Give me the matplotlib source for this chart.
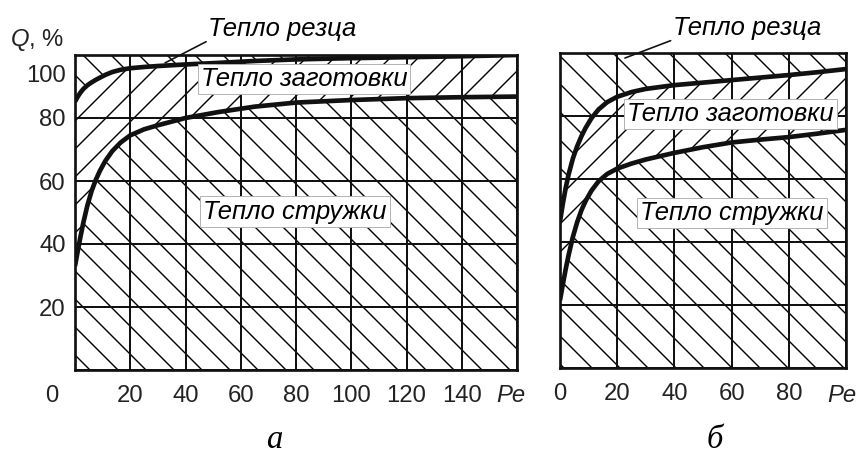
import matplotlib.pyplot as plt
from matplotlib.transforms import ScaledTranslation

DPI = 84
plt.rcParams['font.family'] = 'Liberation Sans'
plt.rcParams['hatch.linewidth'] = 1.2
plt.rcParams['mathtext.fontset'] = 'custom'
plt.rcParams['mathtext.it'] = 'Liberation Sans:italic'
plt.rcParams['mathtext.rm'] = 'Liberation Sans'

# panel a: heat shares vs Pe
pe_a = [0, 1, 2, 3, 4.5, 6, 7.5, 9, 11, 13.5, 16.5, 20, 25, 30, 40, 52, 65, 80,
        100, 120, 140, 160]
q_a_tool = [85.2, 86.8, 88.1, 89.2, 90.4, 91.3, 92.1, 92.8, 93.7, 94.6, 95.3, 95.8,
            96.2, 96.5, 97.0, 97.5, 98.1, 98.6, 99.0, 99.3, 99.6, 100]
q_a_chip = [33, 37.8, 42.4, 46.7, 52.3, 56.8, 60.3, 63.2, 66.4, 69.5, 72.2, 74.5,
            76.4, 77.7, 80, 81.9, 83.6, 84.9, 85.7, 86.3, 86.6, 86.8]

# panel б
pe_b = [0, 1, 2, 3, 4.5, 6, 7.5, 9, 11, 13.5, 16.5, 20, 25, 30, 40, 50, 60, 70, 80,
        90, 100]
q_b_tool = [46.5, 52.2, 57.2, 61.4, 66.5, 70.4, 73.6, 76.3, 79.3, 82.1, 84.4, 86.1,
            87.6, 88.6, 89.8, 90.6, 91.4, 92.2, 93, 93.9, 94.9]
q_b_chip = [21.5, 26.6, 31.4, 35.8, 41.6, 46.3, 50.1, 53.1, 56.3, 59.3, 61.6, 63.3,
            64.9, 66.2, 68.3, 70.1, 71.6, 72.5, 73.3, 74.4, 75.6]

q_ticks = [0, 20, 40, 60, 80, 100]
q_labels = ['', '20', '40', '60', '80', '100']
pe_a_ticks = [0, 20, 40, 60, 80, 100, 120, 140, 160]
pe_a_labels = ['', '20', '40', '60', '80', '100', '120', '140', '']
pe_b_ticks = [0, 20, 40, 60, 80, 100]
pe_b_labels = ['0', '20', '40', '60', '80', '']

W, H = 861, 455
fig = plt.figure(figsize=(W / DPI, H / DPI), dpi=DPI)
ax_a = fig.add_axes([75 / W, 85 / H, 442 / W, 315 / H])
ax_b = fig.add_axes([560 / W, 87 / H, 286 / W, 315 / H])

ink = '#111111'
tick_fs = 20.5
note_fs = 22
note_kw = dict(fontsize=note_fs, style='italic', va='center', ha='left', zorder=4,
               bbox=dict(facecolor='white', edgecolor='#b0b0b0', linewidth=0.8,
                         boxstyle='square,pad=0.12'))


def draw_panel(ax, pe, tool, chip, xmax):
    hatch_kw = dict(facecolor='white', edgecolor='black', linewidth=0)
    ax.fill_between(pe, 0, chip, hatch='\\', **hatch_kw)
    ax.fill_between(pe, chip, tool, hatch='/', **hatch_kw)
    ax.fill_between(pe, tool, 100, hatch='\\', **hatch_kw)
    ax.plot(pe, tool, color=ink, lw=4.0, solid_capstyle='butt',
            solid_joinstyle='round', zorder=3)
    ax.plot(pe, chip, color=ink, lw=4.0, solid_capstyle='butt',
            solid_joinstyle='round', zorder=3)
    ax.set_xlim(0, xmax)
    ax.set_ylim(0, 100)
    ax.grid(True, color=ink, lw=1.7)
    for s in ax.spines.values():
        s.set_linewidth(2.3)
        s.set_color(ink)
    ax.tick_params(length=0, labelsize=tick_fs, labelcolor='#222222')
    ax.tick_params(axis='x', pad=13)
    ax.tick_params(axis='y', pad=8)


draw_panel(ax_a, pe_a, q_a_tool, q_a_chip, 160)
draw_panel(ax_b, pe_b, q_b_tool, q_b_chip, 100)

ax_a.set_xticks(pe_a_ticks, pe_a_labels)
ax_a.set_yticks(q_ticks, q_labels)
top_lbl = ax_a.get_yticklabels()[-1]
top_lbl.set_transform(top_lbl.get_transform()
                      + ScaledTranslation(0, -18 / DPI, fig.dpi_scale_trans))
ax_b.set_xticks(pe_b_ticks, pe_b_labels)
ax_b.set_yticks(q_ticks, [''] * len(q_ticks))

# region labels
ax_a.text(45.5, 92.5, 'Тепло заготовки', **note_kw)
ax_a.text(46.5, 50.3, 'Тепло стружки', **note_kw)
ax_b.text(23.5, 80.7, 'Тепло заготовки', **note_kw)
ax_b.text(28, 49.2, 'Тепло стружки', **note_kw)

arrow = dict(arrowstyle='-', lw=1.4, color=ink, shrinkA=0, shrinkB=0,
             relpos=(0, 0))
ax_a.annotate('Тепло резца', xy=(32.6, 97.5), xytext=(48.3, 104.6),
              fontsize=note_fs, style='italic', va='bottom', ha='left',
              arrowprops=arrow, annotation_clip=False)
ax_b.annotate('Тепло резца', xy=(22.7, 98.4), xytext=(39.5, 104.2),
              fontsize=note_fs, style='italic', va='bottom', ha='left',
              arrowprops=arrow, annotation_clip=False)

# axis captions
fig.text(10 / W, 1 - 40 / H, r'$\mathit{Q}$, %', fontsize=tick_fs, va='center',
         ha='left', color='#222222')
fig.text(52 / W, 1 - 396 / H, '0', fontsize=tick_fs, va='center', ha='center',
         color='#222222')
fig.text(511 / W, 1 - 396 / H, 'Pe', fontsize=tick_fs, style='italic',
         va='center', ha='center', color='#222222')
fig.text(842 / W, 1 - 396 / H, 'Pe', fontsize=tick_fs, style='italic',
         va='center', ha='center', color='#222222')
fig.text(274 / W, 0.5 / H, 'а', fontsize=28, family='Liberation Serif',
         style='italic', va='bottom', ha='center')
fig.text(715 / W, 0.5 / H, 'б', fontsize=28, family='Liberation Serif',
         style='italic', va='bottom', ha='center')

fig.savefig('out.png', dpi=DPI)
